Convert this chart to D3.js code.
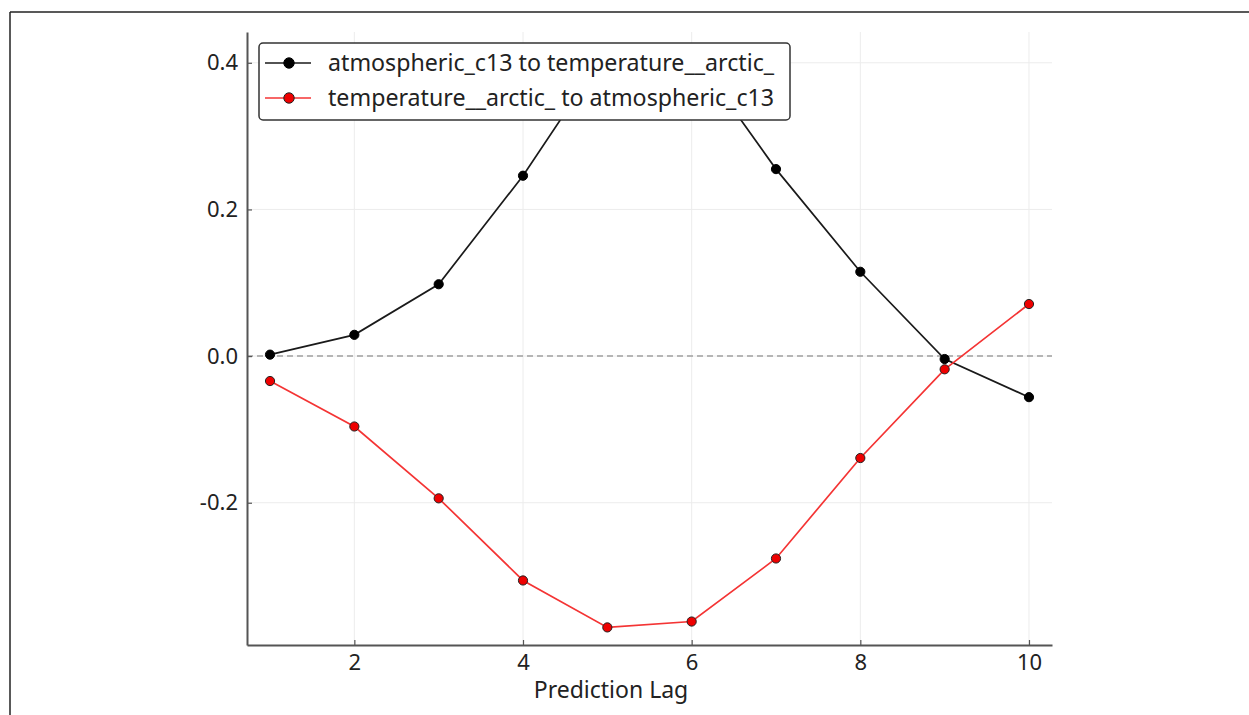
<!DOCTYPE html>
<html>
<head>
<meta charset="utf-8">
<script src="https://cdn.jsdelivr.net/npm/d3@7"></script>
<style>
  body { margin: 0; background: #fff; }
  svg { font-family: "Noto Sans", "Open Sans", sans-serif; }
</style>
</head>
<body>
<svg id="chart" width="1249" height="715"></svg>
<script>
// values
var lags = [1, 2, 3, 4, 5, 6, 7, 8, 9, 10];
var c13ToTemp = [0.002, 0.029, 0.098, 0.246, 0.418, 0.416, 0.255, 0.115, -0.004, -0.056];
var tempToC13 = [-0.034, -0.096, -0.194, -0.306, -0.370, -0.362, -0.276, -0.139, -0.018, 0.071];
var xTicks = [2, 4, 6, 8, 10];
var yTicks = [0.4, 0.2, 0.0, -0.2];
var seriesNames = ["atmospheric_c13 to temperature__arctic_", "temperature__arctic_ to atmospheric_c13"];

var svg = d3.select("#chart");

// frame round the picture (top and left edges only)
svg.append("line").attr("x1", 10).attr("y1", 12).attr("x2", 1249).attr("y2", 12)
  .style("stroke", "#222").style("stroke-width", 1.5);
svg.append("line").attr("x1", 10).attr("y1", 12).attr("x2", 10).attr("y2", 715)
  .style("stroke", "#222").style("stroke-width", 1.5);

var plotLeft = 247, plotTop = 32, w = 1052 - 247, h = 645 - 32;
var g = svg.append("g").attr("transform", "translate(" + plotLeft + "," + plotTop + ")");

var x = d3.scaleLinear().domain([0.727, 10.273]).range([0, w]);
var y = d3.scaleLinear().domain([-0.394, 0.442]).range([h, 0]);

// grid
g.selectAll(".vgrid").data(xTicks).enter().append("line")
  .attr("x1", function(d) { return x(d); }).attr("x2", function(d) { return x(d); })
  .attr("y1", 0).attr("y2", h)
  .style("stroke", "#ececec").style("stroke-width", 1);
g.selectAll(".hgrid").data(yTicks).enter().append("line")
  .attr("x1", 0).attr("x2", w)
  .attr("y1", function(d) { return y(d); }).attr("y2", function(d) { return y(d); })
  .style("stroke", "#ececec").style("stroke-width", 1);

// zero line
g.append("line").attr("x1", 0).attr("x2", w).attr("y1", y(0)).attr("y2", y(0))
  .style("stroke", "#a0a0a0").style("stroke-width", 1.5).style("stroke-dasharray", "6,4");

// axes
var xAxis = g.append("g").attr("transform", "translate(0," + h + ")")
  .call(d3.axisBottom(x).tickValues(xTicks).tickSizeInner(-5).tickSizeOuter(0).tickPadding(9)
    .tickFormat(d3.format("d")));
var yAxis = g.append("g")
  .call(d3.axisLeft(y).tickValues(yTicks).tickSizeInner(-5).tickSizeOuter(0).tickPadding(9)
    .tickFormat(function(d) { return d3.format(".1f")(d).replace("\u2212", "-"); }));
[xAxis, yAxis].forEach(function(a) {
  a.select(".domain").style("stroke", "#555").style("stroke-width", 2);
  a.selectAll(".tick line").style("stroke", "#555").style("stroke-width", 1.2);
  a.selectAll("text").style("font-size", "22px").style("fill", "#222")
    .style("font-family", '"Noto Sans", "Open Sans", sans-serif');
});

// x label sits a bit left of the axis centre in the original
g.append("text").attr("x", 364).attr("y", h + 53)
  .attr("text-anchor", "middle").style("font-size", "23px").style("fill", "#222")
  .text("Prediction Lag");

// series
var series = [
  { name: seriesNames[0], values: c13ToTemp, line: "#1a1a1a", fill: "#000", edge: "#000" },
  { name: seriesNames[1], values: tempToC13, line: "#f43434", fill: "#ee0000", edge: "#222" }
];

var line = d3.line().x(function(d) { return x(d[0]); }).y(function(d) { return y(d[1]); });

series.forEach(function(s) {
  var pts = lags.map(function(l, i) { return [l, s.values[i]]; });
  g.append("path").datum(pts).attr("d", line)
    .style("fill", "none").style("stroke", s.line).style("stroke-width", 1.7);
  g.selectAll(null).data(pts).enter().append("circle")
    .attr("cx", function(d) { return x(d[0]); }).attr("cy", function(d) { return y(d[1]); })
    .attr("r", 4.6)
    .style("fill", s.fill).style("stroke", s.edge).style("stroke-width", 1);
});

// legend
var lg = svg.append("g").attr("transform", "translate(259,43)");
lg.append("rect").attr("width", 531).attr("height", 77).attr("rx", 4)
  .style("fill", "#fff").style("stroke", "#333").style("stroke-width", 1.5);
series.forEach(function(s, i) {
  var cy = 20 + i * 35;
  lg.append("line").attr("x1", 6).attr("x2", 52).attr("y1", cy).attr("y2", cy)
    .style("stroke", s.line).style("stroke-width", 1.7);
  lg.append("circle").attr("cx", 30).attr("cy", cy).attr("r", 5.2)
    .style("fill", s.fill).style("stroke", s.edge).style("stroke-width", 1);
  lg.append("text").attr("x", 69).attr("y", cy).attr("dy", "0.35em")
    .style("font-size", "23.2px").style("fill", "#222").text(s.name);
});
</script>
</body>
</html>
